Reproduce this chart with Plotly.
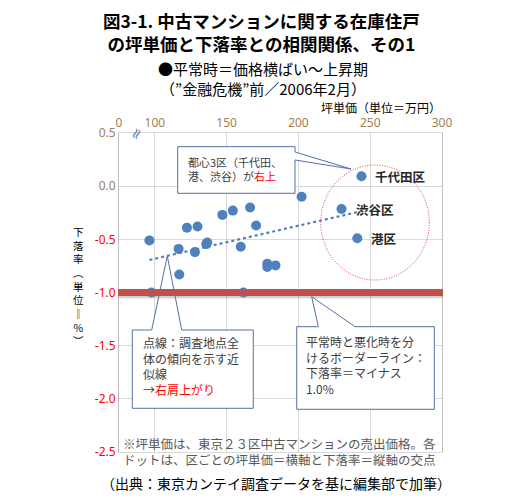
import numpy as np
import plotly.graph_objects as go

# 坪単価 (万円) と 下落率 (%)
price = [96.2, 97.6, 116.5, 117.0, 122.3, 129.7, 127.9, 135.8, 136.5, 147.0, 154.3,
         159.8, 161.7, 166.3, 170.5, 178.3, 178.3, 184.0, 202.2, 230.0, 241.0, 243.9]
drop = [-0.51, -1.00, -0.59, -0.83, -0.39, -0.38, -0.62, -0.545, -0.53, -0.27, -0.23,
        -0.57, -1.00, -0.20, -0.37, -0.73, -0.76, -0.745, -0.10, -0.215, -0.49, 0.093]
ward = [""] * 19 + ["渋谷区", "港区", "千代田区"]

x_tickvals = [75, 100, 150, 200, 250, 300]
x_ticktext = ["0", "100", "150", "200", "250", "300"]
y_tickvals = [0.5, 0.0, -0.5, -1.0, -1.5, -2.0, -2.5]
border_value = -1.0

BLUE = "#4F81BD"
TAN = "#9F8050"
FONT = "Noto Sans CJK JP"

# page body has an 8px margin, so the canvas is drawn that much in
OFF = 8
W, H = 529 - 2 * OFF, 504 - 2 * OFF
# plot area, in screen pixels
PL, PR, PT, PB = 119, 442, 133, 452


def fx(p):
    return (p - PL) / (PR - PL)


def fy(p):
    return (PB - p) / (PB - PT)


fig = go.Figure()

# trend line (least squares over all wards)
slope, icpt = np.polyfit(price, drop, 1)
tx = [min(price), max(price)]
fig.add_trace(go.Scatter(
    x=tx, y=[slope * v + icpt for v in tx], mode="lines",
    line=dict(color=BLUE, width=2.2, dash="dot"), hoverinfo="skip"))

fig.add_trace(go.Scatter(
    x=price, y=drop, mode="markers",
    marker=dict(color=BLUE, size=10), hoverinfo="x+y"))

ann = []
for xv, yv, name in zip(price, drop, ward):
    if name:
        ann.append(dict(x=xv, y=yv, xref="x", yref="y", text="<b>%s</b>" % name,
                        showarrow=False, xanchor="left", xshift=12,
                        font=dict(size=12.5, color="#262626", family=FONT)))


def label(px, py, text, size, color="#000000", xanchor="center", align="center"):
    ann.append(dict(x=fx(px), y=fy(py), xref="paper", yref="paper", text=text,
                    showarrow=False, xanchor=xanchor, yanchor="middle", align=align,
                    font=dict(size=size, color=color, family=FONT)))


# titles
label(261, 32, "<b>図3-1. 中古マンションに関する在庫住戸<br>の坪単価と下落率との相関関係、その1</b>", 17.5)
label(263, 78, "●平常時＝価格横ばい～上昇期<br>（”金融危機”前／2006年2月）", 15)
label(443, 108, "坪単価（単位＝万円）", 12, xanchor="right")

# vertical y axis title
label(78, 286, "<br>".join(["下", "落", "率", "︵", "単", "位", "‖", "%", "︶"]), 10.5)

# callout texts
label(186, 169, "都心3区（千代田、<br>港、渋谷）が<span style='color:#FF0000'>右上</span>", 11,
      color="#404040", xanchor="left", align="left")
label(141, 366, "点線：調査地点全<br>体の傾向を示す近<br>似線<br>→<span style='color:#FF0000'>右肩上がり</span>", 12,
      color="#404040", xanchor="left", align="left")
label(304, 365, "平常時と悪化時を分<br>けるボーダーライン：<br>下落率＝マイナス<br>1.0%", 12,
      color="#404040", xanchor="left", align="left")

# notes
label(279, 451, "※坪単価は、東京２３区中古マンションの売出価格。各<br>ドットは、区ごとの坪単価＝横軸と下落率＝縦軸の交点", 12.5,
      color="#595959")
label(276, 483, "（出典：東京カンテイ調査データを基に編集部で加筆）", 14)

# axis break mark
ann.append(dict(x=fx(136), y=fy(134), xref="paper", yref="paper", text="≈",
                showarrow=False, textangle=-65, xanchor="center", yanchor="middle",
                font=dict(size=15, color=BLUE, family="DejaVu Sans")))

EDGE = "#5470A8"


def callout(path):
    return dict(type="path", xref="paper", yref="paper", path=path,
                line=dict(color=EDGE, width=1), fillcolor="white", layer="above")


def pth(points):
    return "M " + " L ".join("%.4f,%.4f" % (fx(a), fy(b)) for a, b in points) + " Z"


shapes = [
    # dotted circle round the three central wards
    dict(type="circle", xref="paper", yref="paper",
         x0=fx(320.7), x1=fx(429.3), y0=fy(280), y1=fy(165),
         line=dict(color="#E23B3B", width=1, dash="1px,1.5px"), layer="above"),
    callout(pth([(177.7, 146.7), (295, 146.7), (295, 152), (351, 169), (295, 160),
                 (295, 193.3), (177.7, 193.3)])),
    callout(pth([(132.3, 330), (151.7, 330), (167.3, 256), (181.7, 330), (253.3, 330),
                 (253.3, 408.3), (132.3, 408.3)])),
    callout(pth([(296.7, 326.7), (318.3, 326.7), (311.7, 296.7), (355, 326.7), (434.3, 326.7),
                 (434.3, 409.3), (296.7, 409.3)])),
    # border line at -1.0 with a soft shadow
    dict(type="line", xref="paper", yref="y", x0=-0.003, x1=1.003,
         y0=border_value - 0.02, y1=border_value - 0.02,
         line=dict(color="rgba(120,120,120,0.35)", width=7), layer="above"),
    dict(type="line", xref="paper", yref="y", x0=-0.003, x1=1.003,
         y0=border_value, y1=border_value,
         line=dict(color="#C0504D", width=7), layer="above"),
]

y_ticktext = []
for v in y_tickvals:
    col = TAN if v >= 0 else "#FF0000"
    y_ticktext.append("<span style='color:%s'>%.1f</span>" % (col, v))

fig.update_layout(
    width=W, height=H,
    margin=dict(l=PL - OFF, r=W - (PR - OFF), t=PT - OFF, b=H - (PB - OFF)),
    paper_bgcolor="white", plot_bgcolor="white",
    showlegend=False,
    font=dict(family=FONT),
    xaxis=dict(range=[75, 300], side="top", tickvals=x_tickvals, ticktext=x_ticktext,
               tickfont=dict(size=12, color=TAN, family="Noto Sans"),
               showgrid=True, gridcolor="#D9D9D9", gridwidth=1,
               showline=True, linecolor="#D9D9D9", mirror=True,
               zeroline=False, ticks=""),
    yaxis=dict(range=[-2.5, 0.5], tickvals=y_tickvals, ticktext=y_ticktext,
               tickfont=dict(size=12, family="Noto Sans"),
               showgrid=True, gridcolor="#D9D9D9", gridwidth=1,
               showline=True, linecolor="#BFBFBF", mirror=True,
               zeroline=False, ticks=""),
    annotations=ann,
    shapes=shapes,
)

fig.write_html("out.html")
